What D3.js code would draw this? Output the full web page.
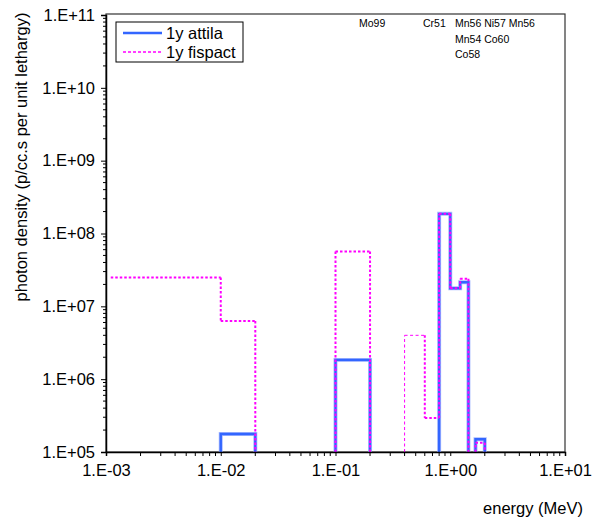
<!DOCTYPE html>
<html>
<head>
<meta charset="utf-8">
<script src="https://cdn.jsdelivr.net/npm/d3@7"></script>
<style>
  html, body { margin: 0; padding: 0; background: #fff; }
  svg { display: block; font-family: "Liberation Sans", Arial, sans-serif; }
</style>
</head>
<body>
<svg id="chart" width="601" height="522"></svg>
<script>
// ---- data ----
const binEdges = [0.0011, 0.01, 0.02, 0.05, 0.1, 0.2, 0.3, 0.4, 0.6, 0.8, 1.0, 1.22, 1.44, 1.66, 2.0];
const attila  = [0, 1.77e5, 0, 0, 1.84e6, 0, 0, 0, 0, 1.86e8, 1.77e7, 2.14e7, 0, 1.5e5];
const fispact = [2.48e7, 6.3e6, 0, 0, 5.64e7, 0, 0, 4.0e6, 2.93e5, 1.86e8, 1.77e7, 2.4e7, 0, 1.34e5];
const xTickValues = [1e-3, 1e-2, 1e-1, 1e0, 1e1];
const xTickLabels = ["1.E-03", "1.E-02", "1.E-01", "1.E+00", "1.E+01"];
const yTickValues = [1e5, 1e6, 1e7, 1e8, 1e9, 1e10, 1e11];
const yTickLabels = ["1.E+05", "1.E+06", "1.E+07", "1.E+08", "1.E+09", "1.E+10", "1.E+11"];
const seriesNames = ["1y attila", "1y fispact"];
const peakLabels = [
  { text: "Mo99", x: 359, y: 27 },
  { text: "Cr51", x: 423, y: 27 },
  { text: "Mn56 Ni57 Mn56", x: 455, y: 27 },
  { text: "Mn54 Co60", x: 455, y: 43 },
  { text: "Co58", x: 455, y: 58 }
];

// ---- layout ----
const svg = d3.select("#chart");
const L = 106, R = 565, T = 15, B = 452;
const x = d3.scaleLog().domain([1e-3, 1e1]).range([L, R]);
const y = d3.scaleLog().domain([1e5, 1e11]).range([B, T]).clamp(true);
const FS = 16.5;

// frame
svg.append("rect").attr("x", L).attr("y", T - 1).attr("width", R - L).attr("height", B - T + 1)
  .attr("fill", "none").attr("stroke", "#333").attr("stroke-width", 1.2);

// step runs: contiguous non-zero bins, each closed down to the axis
function runs(vals, firstFromBottom) {
  const out = [];
  let cur = null;
  vals.forEach((v, i) => {
    if (v > 0) {
      if (!cur) {
        cur = [];
        if (!(i === 0 && !firstFromBottom)) cur.push([binEdges[i], 1e5]);
      }
      cur.push([binEdges[i], v], [binEdges[i + 1], v]);
    } else if (cur) {
      cur.push([binEdges[i], 1e5]);
      out.push(cur); cur = null;
    }
  });
  if (cur) { cur.push([binEdges[vals.length], 1e5]); out.push(cur); }
  return out;
}
const line = d3.line().x(d => x(d[0])).y(d => y(d[1]));

// attila (blue)
const aRuns = runs(attila, true);
svg.append("g").selectAll("path").data(aRuns).join("path").attr("d", line).attr("fill", "none")
  .attr("stroke", "#aabcff").attr("stroke-width", 4);
svg.append("g").selectAll("path").data(aRuns).join("path").attr("d", line).attr("fill", "none")
  .attr("stroke", "#3366ff").attr("stroke-width", 2.4);

// fispact (magenta dotted); the 0.4-0.6 bin's rising edge and top drawn thinner
const fRuns = runs(fispact, false);
const thinBin = 7;
fRuns.forEach(run => {
  for (let i = 0; i < run.length - 1; i++) {
    const a = run[i], b = run[i + 1];
    const thin = a[0] === binEdges[thinBin] && (b[0] === binEdges[thinBin] || b[0] === binEdges[thinBin + 1]);
    svg.append("path").attr("d", line([a, b])).attr("fill", "none")
      .attr("stroke", "#ff00ff")
      .attr("stroke-width", thin ? 1 : 2)
      .attr("stroke-dasharray", thin ? "3,2.5" : "2.5,2");
  }
});

// axes
const xAxis = d3.axisBottom(x).tickValues(xTickValues)
  .tickFormat((d, i) => xTickLabels[i]).tickSize(4).tickPadding(8);
const gx = svg.append("g").attr("transform", `translate(0,${B})`).call(xAxis);
gx.select(".domain").attr("stroke", "#000").attr("stroke-width", 1.5);
gx.selectAll("text").attr("font-size", FS).attr("font-family", "Liberation Sans, Arial, sans-serif").attr("fill", "#000");

const xMinor = [];
for (let e = -3; e < 1; e++) for (let k = 2; k <= 9; k++) xMinor.push(k * Math.pow(10, e));
svg.append("g").selectAll("line").data(xMinor).join("line")
  .attr("x1", d => x(d)).attr("x2", d => x(d)).attr("y1", B).attr("y2", B + 4)
  .attr("stroke", "#000").attr("stroke-width", 1);

const yAxis = d3.axisLeft(y).tickValues(yTickValues)
  .tickFormat((d, i) => yTickLabels[i]).tickSize(5).tickPadding(6);
const gy = svg.append("g").attr("transform", `translate(${L},0)`).call(yAxis);
gy.select(".domain").attr("stroke", "#000").attr("stroke-width", 1.5);
gy.selectAll("text").attr("font-size", FS).attr("font-family", "Liberation Sans, Arial, sans-serif").attr("fill", "#000");

const yMinor = [];
for (let e = 5; e < 11; e++) for (let k = 2; k <= 9; k++) yMinor.push(k * Math.pow(10, e));
svg.append("g").selectAll("line").data(yMinor).join("line")
  .attr("x1", L - 3).attr("x2", L).attr("y1", d => y(d)).attr("y2", d => y(d))
  .attr("stroke", "#000").attr("stroke-width", 1);

// axis titles
svg.append("text").attr("x", 583).attr("y", 514).attr("text-anchor", "end")
  .attr("font-size", FS).text("energy (MeV)");
svg.append("text").attr("transform", "translate(27,157) rotate(-90)").attr("text-anchor", "middle")
  .attr("font-size", FS).text("photon density (p/cc.s per unit lethargy)");

// legend
const lg = svg.append("g");
lg.append("rect").attr("x", 116).attr("y", 22).attr("width", 127).attr("height", 40)
  .attr("fill", "#fff").attr("stroke", "#000").attr("stroke-width", 1);
lg.append("line").attr("x1", 123).attr("x2", 162).attr("y1", 33).attr("y2", 33)
  .attr("stroke", "#3366ff").attr("stroke-width", 2.4);
lg.append("line").attr("x1", 123).attr("x2", 162).attr("y1", 52).attr("y2", 52)
  .attr("stroke", "#ff00ff").attr("stroke-width", 1.5).attr("stroke-dasharray", "3,2");
lg.selectAll("text").data(seriesNames).join("text")
  .attr("x", 166).attr("y", (d, i) => 38.5 + i * 19).attr("font-size", FS).text(d => d);

// peak labels
svg.append("g").selectAll("text").data(peakLabels).join("text")
  .attr("x", d => d.x).attr("y", d => d.y).attr("font-size", 10.5).text(d => d.text);
</script>
</body>
</html>
